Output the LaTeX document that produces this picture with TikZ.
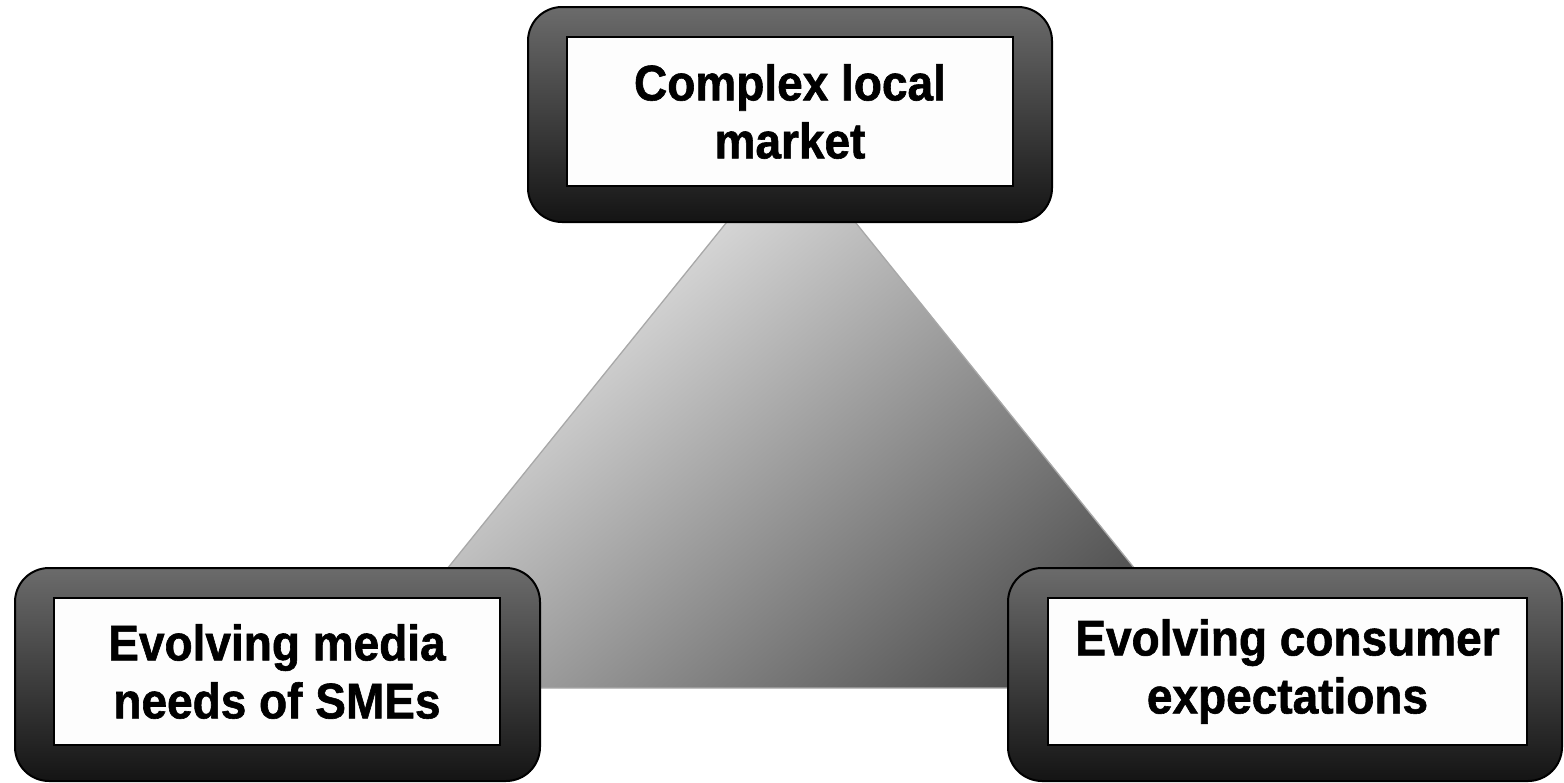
\documentclass[tikz,border=0pt]{standalone}
\usepackage{fontspec}
\setmainfont{Liberation Sans}
\newfontfamily\lblfont{Liberation Sans}[FakeStretch=0.92, FakeBold=1.2]
\begin{document}
\begin{tikzpicture}[x=1pt,y=-1pt,
  outerbox/.style={rounded corners=34pt, draw=black, line width=2pt,
    top color=boxtop, bottom color=boxbot, inner sep=0pt},
  innerbox/.style={draw=black, line width=2.5pt, fill=innerfill, inner sep=0pt,
    align=center, font=\lblfont\fontsize{50}{58}\selectfont\bfseries, text=black},
  tri/.style={draw=triedge, line width=1.3pt, top color=trilight, bottom color=tridark, shading angle=40}
]
\definecolor{boxtop}{HTML}{6B6B6B}
\definecolor{boxbot}{HTML}{141414}
\definecolor{innerfill}{HTML}{FDFDFD}
\definecolor{triedge}{HTML}{A8A8A8}
\definecolor{trilight}{HTML}{FCFCFC}
\definecolor{tridark}{HTML}{505050}
\useasboundingbox (0,0) rectangle (1564,782);
% triangle vertices
\coordinate (apex) at (791,142.5);
\coordinate (bl) at (351,688);
\coordinate (br) at (1231,688);
\shade[tri] (apex) -- (bl) -- (br) -- cycle;
% top box
\node[outerbox, minimum width=524pt, minimum height=215pt] (topouter) at (790,114.5) {};
\node[innerbox, minimum width=446pt, minimum height=149pt] (top) at (790,111.5) {Complex local\\market};
% left box
\node[outerbox, minimum width=525pt, minimum height=213pt] (leftouter) at (277.5,674.5) {};
\node[innerbox, minimum width=446pt, minimum height=147pt] (left) at (277,671.5) {Evolving media\\needs of SMEs};
% right box
\node[outerbox, minimum width=554pt, minimum height=213pt] (rightouter) at (1285,674.5) {};
\node[innerbox, minimum width=479pt, minimum height=147pt] (right) at (1287.5,671.5) {Evolving consumer\\expectations};
\end{tikzpicture}
\end{document}
